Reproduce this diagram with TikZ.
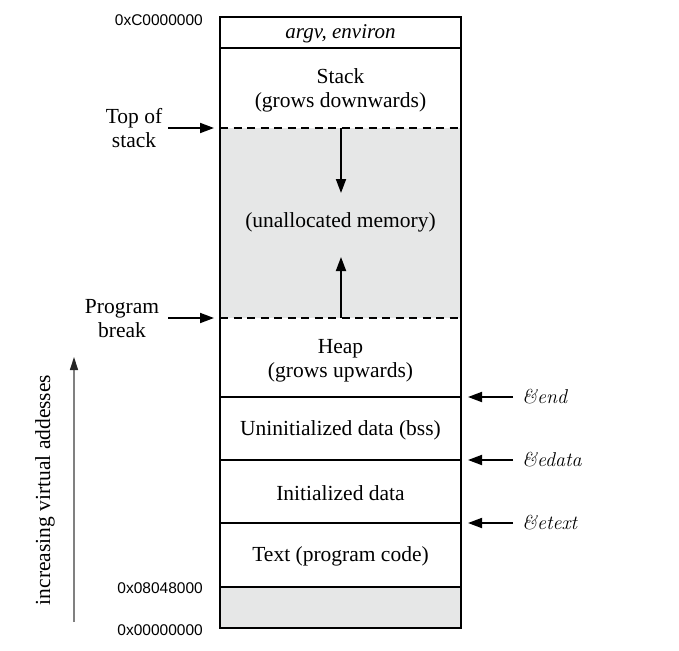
\documentclass[tikz,border=0pt]{standalone}
\usepackage{fontspec}
\setmainfont{Liberation Serif}
\newfontfamily\hexfont{Liberation Sans}
\newfontfamily\lmfont{Latin Modern Roman}
\usetikzlibrary{arrows.meta}
\definecolor{memgray}{HTML}{E6E7E7}
\definecolor{axisgray}{HTML}{808080}
\begin{document}
\begin{tikzpicture}[x=1pt,y=-1pt,
  lbl/.style={font=\fontsize{21.5}{24}\selectfont, align=center, inner sep=0pt},
  hex/.style={font=\hexfont\fontsize{15.5}{18}\selectfont, anchor=east, inner sep=0pt},
  sym/.style={font=\lmfont\itshape\fontsize{20}{24}\selectfont, anchor=west, inner sep=0pt},
  ptr/.style={line width=1.8pt, -{Triangle[length=14pt,width=10pt]}},
  wall/.style={line width=1.9pt},
  brk/.style={line width=2pt, dash pattern=on 8pt off 5.5pt}]
\useasboundingbox (0,0) rectangle (679,650);
% shaded regions
\fill[memgray] (220,128) rectangle (461,318);
\fill[memgray] (220,587) rectangle (461,628);
% column
\draw[wall] (220,17) rectangle (461,628);
\draw[wall] (220,48) -- (461,48);
\draw[wall] (220,397) -- (461,397);
\draw[wall] (220,460) -- (461,460);
\draw[wall] (220,523) -- (461,523);
\draw[wall] (220,587) -- (461,587);
\draw[brk] (220,128) -- (461,128);
\draw[brk] (220,318) -- (461,318);
% texts in the column
\node[lbl, font=\itshape\fontsize{21}{24}\selectfont] (argv) at (340.5,33.5) {argv, environ};
\node[lbl] (stack) at (340.5,90.5) {Stack\\(grows downwards)};
\node[lbl] (unalloc) at (340.5,222) {(unallocated memory)};
\node[lbl] (heap) at (340.5,360.5) {Heap\\(grows upwards)};
\node[lbl] (bss) at (340.5,430) {Uninitialized data (bss)};
\node[lbl] (data) at (340.5,493) {Initialized data};
\node[lbl] (text) at (340.5,556) {Text (program code)};
% growth arrows
\coordinate (stacktop) at (341,128);
\coordinate (stackgrow) at (341,193);
\coordinate (heaptop) at (341,318);
\coordinate (heapgrow) at (341,257);
\draw[ptr] (stacktop) -- (stackgrow);
\draw[ptr] (heaptop) -- (heapgrow);
% address labels
\node[hex] (a0) at (203,20) {0xC0000000};
\node[hex] (a1) at (203,588) {0x08048000};
\node[hex] (a2) at (203,630) {0x00000000};
% left pointers
\node[lbl] (tos) at (134,128.5) {Top of\\stack};
\node[lbl] (pb) at (122,319) {Program\\break};
\coordinate (tosA) at (168,128);
\coordinate (tosB) at (214,128);
\coordinate (pbA) at (168,318);
\coordinate (pbB) at (214,318);
\draw[ptr] (tosA) -- (tosB);
\draw[ptr] (pbA) -- (pbB);
% right pointers
\node[sym] (end) at (522,397) {\&end};
\node[sym] (edata) at (522,460) {\&edata};
\node[sym] (etext) at (522,523) {\&etext};
\coordinate (endA) at (513,397);
\coordinate (endB) at (468,397);
\coordinate (edataA) at (513,460);
\coordinate (edataB) at (468,460);
\coordinate (etextA) at (513,523);
\coordinate (etextB) at (468,523);
\draw[ptr] (endA) -- (endB);
\draw[ptr] (edataA) -- (edataB);
\draw[ptr] (etextA) -- (etextB);
% address axis
\coordinate (axlo) at (74,622);
\coordinate (axhi) at (74,357);
\draw[line width=1.3pt, axisgray, -{Triangle[length=13pt,width=8pt,color=black!85]}] (axlo) -- (axhi);
\node[lbl, rotate=90] (axlbl) at (45,490) {increasing virtual addesses};
\end{tikzpicture}
\end{document}
